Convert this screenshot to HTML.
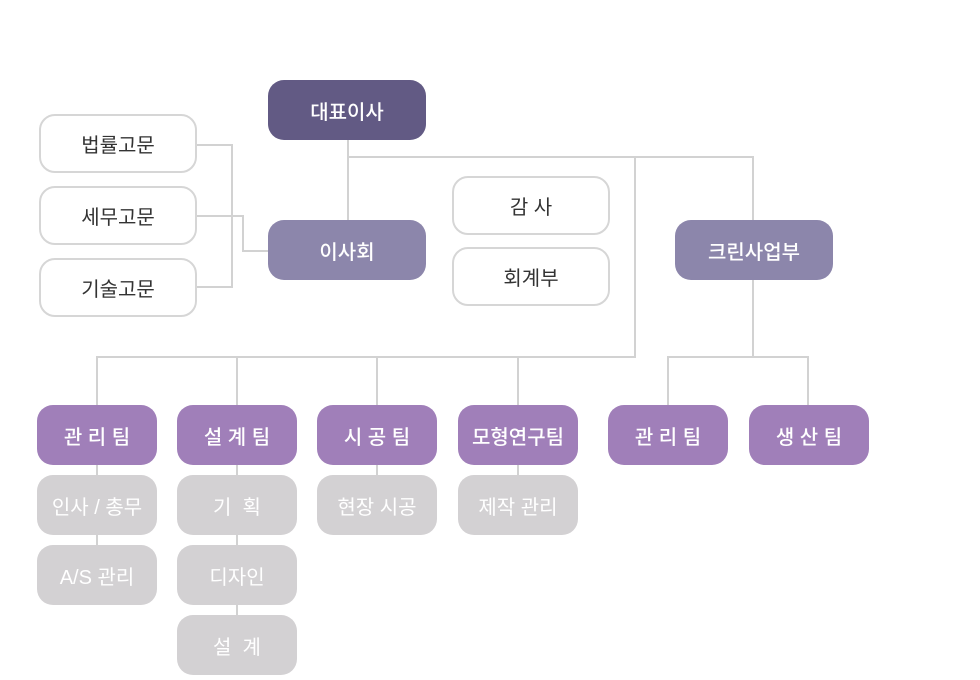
<!DOCTYPE html>
<html><head><meta charset="utf-8">
<style>
html,body{margin:0;padding:0;background:#fff;}
body{width:980px;height:680px;position:relative;overflow:hidden;font-family:"Liberation Sans","Noto Sans CJK KR","NanumGothic",sans-serif;}
.b{position:absolute;box-sizing:border-box;border-radius:16px;display:flex;align-items:center;justify-content:center;font-size:20px;white-space:pre;}
.top{background:#625a84;color:#fff;font-weight:500;}
.mid{background:#8c86ab;color:#fff;font-weight:500;}
.out{background:#fff;border:2px solid #d6d6d6;color:#333;}
.team{background:#a07fb9;color:#fff;font-weight:500;}
.sub{background:#d3d1d3;color:#fff;}
svg{position:absolute;left:0;top:0;}
</style></head><body>
<svg width="980" height="680" viewBox="0 0 980 680">
<g stroke="#d2d2d2" stroke-width="2" fill="none">
<polyline points="196,145 232,145 232,287 196,287"/>
<polyline points="196,216 243,216 243,251 268,251"/>
<line x1="348" y1="140" x2="348" y2="220"/>
<polyline points="348,157 753,157 753,357"/>
<polyline points="635,157 635,357 97,357 97,405"/>
<line x1="237" y1="357" x2="237" y2="405"/>
<line x1="377" y1="357" x2="377" y2="405"/>
<line x1="518" y1="357" x2="518" y2="405"/>
<polyline points="668,405 668,357 808,357 808,405"/>
<line x1="97" y1="465" x2="97" y2="545"/>
<line x1="237" y1="465" x2="237" y2="615"/>
<line x1="377" y1="465" x2="377" y2="475"/>
<line x1="518" y1="465" x2="518" y2="475"/>
</g>
</svg>
<div class="b top" style="left:268px;top:80px;width:158px;height:60px;">대표이사</div>
<div class="b mid" style="left:268px;top:220px;width:158px;height:60px;">이사회</div>
<div class="b mid" style="left:675px;top:220px;width:158px;height:60px;">크린사업부</div>
<div class="b out" style="left:39px;top:114px;width:158px;height:59px;">법률고문</div>
<div class="b out" style="left:39px;top:186px;width:158px;height:59px;">세무고문</div>
<div class="b out" style="left:39px;top:258px;width:158px;height:59px;">기술고문</div>
<div class="b out" style="left:452px;top:176px;width:158px;height:59px;">감 사</div>
<div class="b out" style="left:452px;top:247px;width:158px;height:59px;">회계부</div>
<div class="b team" style="left:37px;top:405px;width:120px;height:60px;">관 리 팀</div>
<div class="b team" style="left:177px;top:405px;width:120px;height:60px;">설 계 팀</div>
<div class="b team" style="left:317px;top:405px;width:120px;height:60px;">시 공 팀</div>
<div class="b team" style="left:458px;top:405px;width:120px;height:60px;">모형연구팀</div>
<div class="b team" style="left:608px;top:405px;width:120px;height:60px;">관 리 팀</div>
<div class="b team" style="left:749px;top:405px;width:120px;height:60px;">생 산 팀</div>
<div class="b sub" style="left:37px;top:475px;width:120px;height:60px;">인사 / 총무</div>
<div class="b sub" style="left:37px;top:545px;width:120px;height:60px;">A/S 관리</div>
<div class="b sub" style="left:177px;top:475px;width:120px;height:60px;">기  획</div>
<div class="b sub" style="left:177px;top:545px;width:120px;height:60px;">디자인</div>
<div class="b sub" style="left:177px;top:615px;width:120px;height:60px;">설  계</div>
<div class="b sub" style="left:317px;top:475px;width:120px;height:60px;">현장 시공</div>
<div class="b sub" style="left:458px;top:475px;width:120px;height:60px;">제작 관리</div>
</body></html>
